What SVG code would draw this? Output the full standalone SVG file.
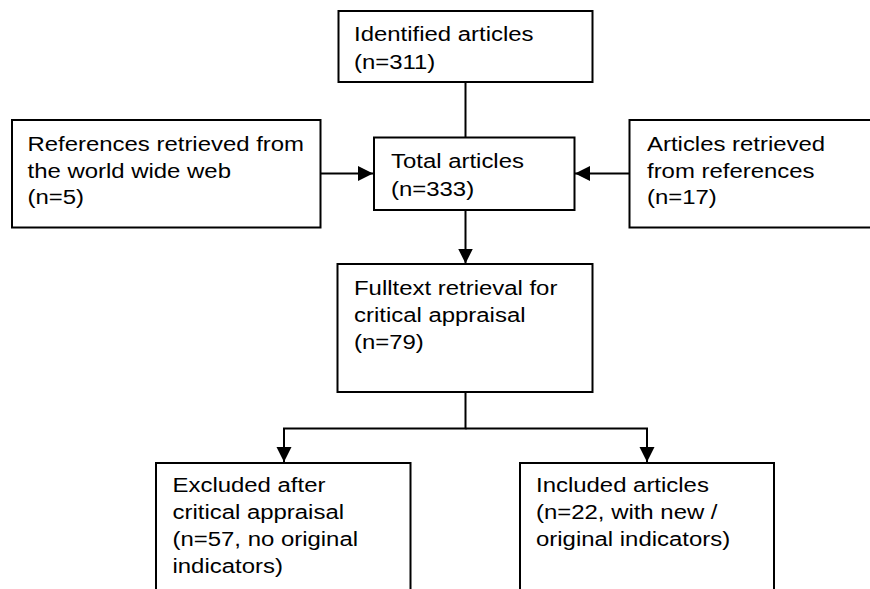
<svg xmlns="http://www.w3.org/2000/svg" width="870" height="589" viewBox="0 0 870 589">
  <style>
    .box { fill: #ffffff; stroke: #000000; stroke-width: 2; }
    .t { font-family: "Liberation Sans", Arial, sans-serif; font-size: 21px; fill: #000000; }
    .c { fill: none; stroke: #000000; stroke-width: 2; }
  </style>
  <defs>
    <marker id="arr" markerUnits="userSpaceOnUse" markerWidth="16" markerHeight="16" refX="15" refY="7.5" orient="auto">
      <path d="M0,0 L15,7.5 L0,15 Z" fill="#000000"/>
    </marker>
  </defs>
  <rect width="870" height="589" fill="#ffffff"/>

  <g id="connectors">
    <line class="c" x1="465.5" y1="82" x2="465.5" y2="137"/>
    <line class="c" x1="320.5" y1="173.5" x2="373" y2="173.5" marker-end="url(#arr)"/>
    <line class="c" x1="629" y1="173.5" x2="575" y2="173.5" marker-end="url(#arr)"/>
    <line class="c" x1="465.5" y1="210" x2="465.5" y2="263.5" marker-end="url(#arr)"/>
    <polyline class="c" points="465.5,392 465.5,428.5 284,428.5 284,462" marker-end="url(#arr)"/>
    <polyline class="c" points="465.5,428.5 647,428.5 647,462" marker-end="url(#arr)"/>
  </g>

  <g id="identified">
    <rect class="box" x="338.5" y="11" width="254" height="71"/>
    <text class="t" transform="translate(354,41) scale(1.14,1)">Identified articles</text>
    <text class="t" transform="translate(354,69) scale(1.14,1)">(n=311)</text>
  </g>

  <g id="web">
    <rect class="box" x="12" y="120" width="308.5" height="107.5"/>
    <text class="t" transform="translate(27.5,151) scale(1.14,1)">References retrieved from</text>
    <text class="t" transform="translate(27.5,178) scale(1.14,1)">the world wide web</text>
    <text class="t" transform="translate(27.5,204) scale(1.14,1)">(n=5)</text>
  </g>

  <g id="total">
    <rect class="box" x="374" y="137.5" width="200.5" height="72.5"/>
    <text class="t" transform="translate(391,168) scale(1.14,1)">Total articles</text>
    <text class="t" transform="translate(391,196) scale(1.14,1)">(n=333)</text>
  </g>

  <g id="references">
    <rect class="box" x="629.5" y="120" width="260" height="107.5"/>
    <text class="t" transform="translate(647,151) scale(1.14,1)">Articles retrieved</text>
    <text class="t" transform="translate(647,178) scale(1.14,1)">from references</text>
    <text class="t" transform="translate(647,204) scale(1.14,1)">(n=17)</text>
  </g>

  <g id="fulltext">
    <rect class="box" x="337.5" y="264" width="255" height="128"/>
    <text class="t" transform="translate(354,295) scale(1.14,1)">Fulltext retrieval for</text>
    <text class="t" transform="translate(354,322) scale(1.14,1)">critical appraisal</text>
    <text class="t" transform="translate(354,349) scale(1.14,1)">(n=79)</text>
  </g>

  <g id="excluded">
    <rect class="box" x="156" y="463" width="254.5" height="140"/>
    <text class="t" transform="translate(172.5,492) scale(1.14,1)">Excluded after</text>
    <text class="t" transform="translate(172.5,519) scale(1.14,1)">critical appraisal</text>
    <text class="t" transform="translate(172.5,546) scale(1.14,1)">(n=57, no original</text>
    <text class="t" transform="translate(172.5,573) scale(1.14,1)">indicators)</text>
  </g>

  <g id="included">
    <rect class="box" x="520" y="463" width="254" height="140"/>
    <text class="t" transform="translate(536,492) scale(1.14,1)">Included articles</text>
    <text class="t" transform="translate(536,519) scale(1.14,1)">(n=22, with new /</text>
    <text class="t" transform="translate(536,546) scale(1.14,1)">original indicators)</text>
  </g>
</svg>
